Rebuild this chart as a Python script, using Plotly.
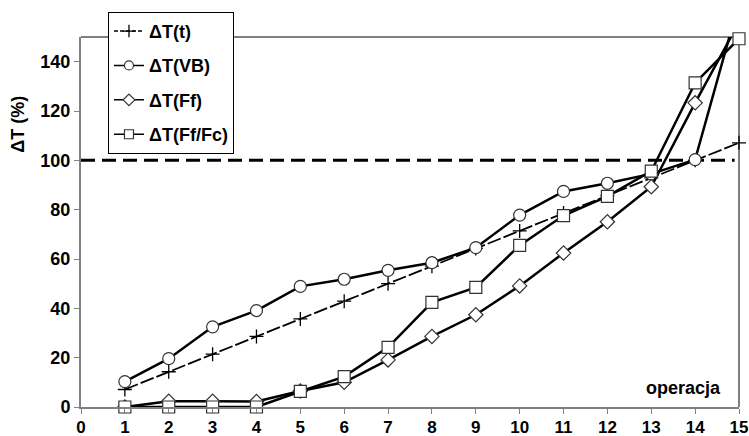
import plotly.graph_objects as go

operations = list(range(1, 16))
dT_t = [7.1, 14.3, 21.4, 28.6, 35.7, 42.9, 50.0, 57.1, 64.3, 71.4, 78.6, 85.7, 92.9, 100.0, 107.1]
dT_VB = [10.3, 19.6, 32.5, 39.1, 48.9, 51.8, 55.4, 58.5, 64.6, 77.8, 87.4, 90.7, 94.5, 100.3, 164.0]
dT_Ff = [0.0, 2.3, 2.3, 2.2, 6.5, 10.0, 19.1, 28.6, 37.4, 49.1, 62.4, 75.1, 89.3, 123.3, 156.0]
dT_FfFc = [0.0, 0.0, 0.0, 0.0, 6.3, 12.3, 24.2, 42.4, 48.5, 65.5, 77.6, 85.4, 95.6, 131.4, 149.3]
names = ["ΔT(t)", "ΔT(VB)", "ΔT(Ff)", "ΔT(Ff/Fc)"]
x_ticks = list(range(0, 16))
y_ticks = [0, 20, 40, 60, 80, 100, 120, 140]

FONT = "Liberation Sans, Arial, sans-serif"
fig = go.Figure()

series = [
    (dT_t, names[0], dict(color="black", width=1.8, dash="14px,3px"),
     dict(symbol="cross-thin", size=10, line=dict(color="black", width=1.3)), False, "a"),
    (dT_VB, names[1], dict(color="black", width=2.5),
     dict(symbol="circle", size=12, color="white", line=dict(color="#333", width=1.2)), True, "b"),
    (dT_Ff, names[2], dict(color="black", width=2.5),
     dict(symbol="diamond", size=11, color="white", line=dict(color="#333", width=1.2)), True, "c"),
    (dT_FfFc, names[3], dict(color="black", width=2.5),
     dict(symbol="square", size=12, color="white", line=dict(color="#333", width=1.2)), False, "d"),
]
for vals, nm, ln, mk, clip, grp in series:
    fig.add_trace(go.Scatter(x=operations, y=vals, name=nm, mode="lines+markers",
                             legendgroup=grp, showlegend=False, line=ln, marker=mk,
                             cliponaxis=clip))
# legend entries with smaller symbols (as in the reference)
for vals, nm, ln, mk, clip, grp in series:
    lmk = dict(mk)
    lmk["size"] = 9 if mk["symbol"] != "cross-thin" else 9
    lln = dict(ln)
    lln["width"] = 1.5
    if "dash" in lln:
        lln["dash"] = "4px,2px"
    fig.add_trace(go.Scatter(x=[None], y=[None], name=nm, mode="lines+markers",
                             legendgroup=grp, showlegend=True, line=lln, marker=lmk))

# 100% reference line
fig.add_shape(type="line", xref="x", yref="y", x0=0, x1=14.9, y0=100, y1=100,
              line=dict(color="black", width=3, dash="14px,7px"), layer="below")
# top and right frame
fig.add_shape(type="line", xref="paper", yref="paper", x0=0, x1=1, y0=1, y1=1,
              line=dict(color="black", width=1), layer="below")
fig.add_shape(type="line", xref="paper", yref="paper", x0=1, x1=1, y0=0, y1=1,
              line=dict(color="black", width=1), layer="below")

fig.add_annotation(text="operacja", xref="paper", yref="paper", x=0.975, y=0.052,
                   xanchor="right", yanchor="middle", showarrow=False,
                   font=dict(family=FONT, size=18, color="black", weight=700))
fig.add_annotation(text="ΔT (%)", xref="paper", yref="paper", x=-0.096, y=0.765,
                   xanchor="center", yanchor="middle", textangle=-90, showarrow=False,
                   font=dict(family=FONT, size=18, color="black", weight=700))

fig.update_layout(
    width=749, height=436,
    margin=dict(l=81, r=10, t=37, b=29, autoexpand=False),
    paper_bgcolor="white", plot_bgcolor="white",
    font=dict(family=FONT, size=18, color="black", weight=700),
    showlegend=True,
    legend=dict(x=0.041, y=1.068, xanchor="left", yanchor="top",
                bgcolor="white", bordercolor="black", borderwidth=1,
                font=dict(family=FONT, size=18, color="black", weight=700),
                tracegroupgap=8, itemwidth=30),
    xaxis=dict(range=[0, 15], tickvals=x_ticks, ticktext=[str(v) for v in x_ticks],
               showgrid=False, zeroline=False, showline=True, linecolor="#808080", linewidth=2,
               ticks="outside", ticklen=5, tickcolor="#808080", tickwidth=1,
               ticklabelstandoff=-1, ticklabeloverflow="allow", automargin=False,
               tickfont=dict(family=FONT, size=17, color="black", weight=700)),
    yaxis=dict(range=[0, 150], tickvals=y_ticks, ticktext=[str(v) for v in y_ticks],
               showgrid=False, zeroline=False, showline=True, linecolor="#808080", linewidth=2,
               ticks="outside", ticklen=5, tickcolor="#808080", tickwidth=1,
               automargin=False),
)

fig.write_html("out.html", config={"displayModeBar": False},
               post_script="document.body.style.margin='0';document.body.style.overflow='hidden';")
